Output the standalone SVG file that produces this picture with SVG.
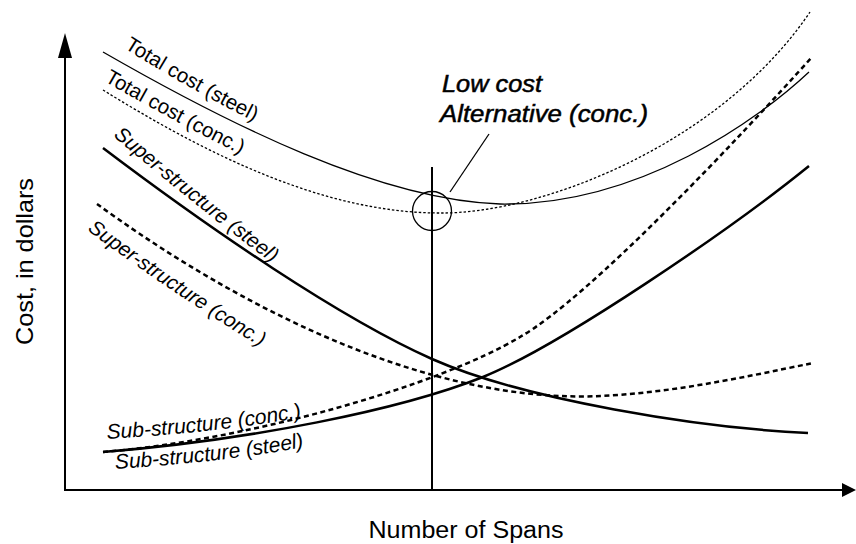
<svg xmlns="http://www.w3.org/2000/svg" xmlns:xlink="http://www.w3.org/1999/xlink" width="856" height="544" viewBox="0 0 856 544">
<style>
text{font-family:"Liberation Sans",Arial,sans-serif;fill:#000}
.it{font-style:italic}
.lc{stroke:#000;stroke-width:0.5}
.thin{fill:none;stroke:#000;stroke-width:1.3}
.thick{fill:none;stroke:#000;stroke-width:2.5}
.dot{stroke-dasharray:2.5 2}
.dash{stroke-dasharray:5 3.5}
.axis{fill:none;stroke:#000;stroke-width:2}
</style>
<defs>
<path id="p-ts" d="M124,48 Q191,90 259,124 L275,132"/>
<path id="p-tc" d="M104,81 Q173,121 244,156 L260,164"/>
<path id="p-ss" d="M113,136 Q195,206 280,269 L292,278"/>
<path id="p-sc" d="M87,230 Q177,297 271,353 L283,360"/>
<path id="p-bc" d="M107,439 Q224,432 303,417 L320,414"/>
<path id="p-bs" d="M115,469 Q225,462 304,447 L320,444"/>
</defs>
<rect width="856" height="544" fill="#fff"/>
<g id="axes">
<line class="axis" x1="65" y1="490" x2="65" y2="55"/>
<polygon points="65,33 58,58 72,58" fill="#000"/>
<line class="axis" x1="64" y1="490" x2="845" y2="490"/>
<polygon points="856,490 842,483 842,497" fill="#000"/>
<text transform="translate(33,261.5) rotate(-90)" text-anchor="middle" font-size="24" textLength="167" lengthAdjust="spacingAndGlyphs">Cost, in dollars</text>
<text x="466" y="538" text-anchor="middle" font-size="23" textLength="195" lengthAdjust="spacingAndGlyphs">Number of Spans</text>
</g>
<g id="curves">
<path id="total-steel" class="thin" d="M103,52 C230,125 380,200 500,204 C640,206 760,118 809,72"/>
<path id="total-conc" class="thin dot" d="M103,90 C200,150 320,213 440,213 C540,214 720,145 810,12"/>
<path id="super-steel" class="thick" d="M103,148 C210,229 340,318 432,359 C525,400 700,428 808,433"/>
<path id="super-conc" class="thick dash" d="M97,204 C200,279 380,388 560,396 C640,400 740,378 813,363"/>
<path id="sub-conc" class="thick dash" d="M103,452 C250,440 440,385 520,337 C590,297 740,137 812,57"/>
<path id="sub-steel" class="thick" d="M103,452 C250,440 400,410 483,377 C560,346 730,230 809,166"/>
</g>
<g id="marker">
<line x1="432" y1="167" x2="432" y2="490" stroke="#000" stroke-width="2"/>
<circle cx="432" cy="211" r="19.5" fill="none" stroke="#000" stroke-width="1.3"/>
<line x1="450" y1="192" x2="489" y2="134" stroke="#000" stroke-width="1.3"/>
</g>
<g id="labels">
<text id="lbl-total-steel" font-size="20.5"><textPath xlink:href="#p-ts">Total cost (steel)</textPath></text>
<text id="lbl-total-conc" font-size="20.5"><textPath xlink:href="#p-tc">Total cost (conc.)</textPath></text>
<text id="lbl-super-steel" class="it" font-size="20.5"><textPath xlink:href="#p-ss">Super-structure (steel)</textPath></text>
<text id="lbl-super-conc" class="it" font-size="20.5"><textPath xlink:href="#p-sc">Super-structure (conc.)</textPath></text>
<text id="lbl-sub-conc" class="it" font-size="21"><textPath xlink:href="#p-bc">Sub-structure (conc.)</textPath></text>
<text id="lbl-sub-steel" class="it" font-size="21"><textPath xlink:href="#p-bs">Sub-structure (steel)</textPath></text>
<g id="low-cost">
<text class="it lc" x="442" y="92" font-size="23" textLength="100" lengthAdjust="spacingAndGlyphs">Low cost</text>
<text class="it lc" x="440" y="122" font-size="23" textLength="208" lengthAdjust="spacingAndGlyphs">Alternative (conc.)</text>
</g>
</g>
</svg>
